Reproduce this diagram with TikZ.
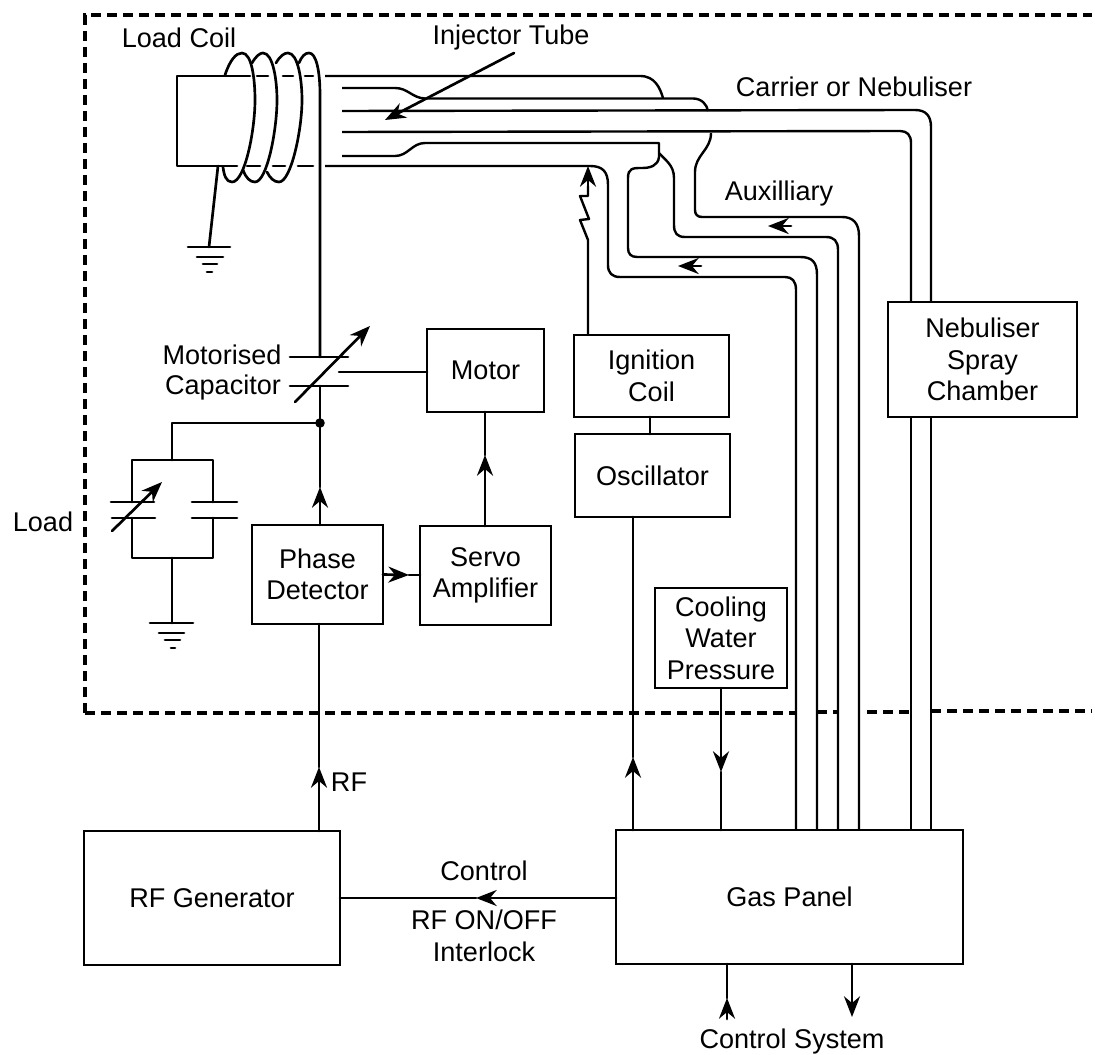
\documentclass[tikz,border=0pt]{standalone}
\usepackage{fontspec}
\setmainfont{Liberation Sans}
\usetikzlibrary{arrows.meta}
\tikzset{
  barb/.tip={Stealth[length=15.5pt,width=12pt,inset=5pt]},
  wire/.style={draw=black,line width=2pt,line cap=round,line join=round},
  thin wire/.style={draw=black,line width=1.8pt,line join=round},
  flow/.style={wire,-{barb}},
  bluebox/.style={draw=black,line width=2pt,inner sep=0pt,outer sep=0pt,align=center,font=\fontsize{20.3}{23.6}\selectfont},
  label/.style={inner sep=0pt,outer sep=0pt,align=center,font=\fontsize{20.3}{23.6}\selectfont},
  border/.style={draw=black,line width=2.4pt,dash pattern=on 7.6pt off 4.4pt}
}
\newcommand{\boxnode}[6]{\node[bluebox,minimum width={(#4-#2)*0.75pt},minimum height={(#5-#3)*0.75pt}] (#1) at ({(#2+#4)/2},{(#3+#5)/2}) {#6};}
\begin{document}
\begin{tikzpicture}[x=0.75pt,y=-0.75pt]
\useasboundingbox (0,0) rectangle (1095,1055);
% enclosure
\draw[border] (85,713) -- (85,15) -- (1092,15);
\draw[border] (85,713) -- (796,713);
\draw[border] (817,712) -- (838,712);
\draw[border] (867,712) -- (911,712);
\draw[border] (931,711) -- (1092,711);
% boxes
\boxnode{motor}{427}{329}{544}{412}{Motor}
\boxnode{phase}{252}{525}{383}{624}{Phase\\Detector}
\boxnode{servo}{420}{526}{551}{625}{Servo\\Amplifier}
\boxnode{ign}{574}{335}{729}{417}{Ignition\\Coil}
\boxnode{osc}{575}{434}{730}{517}{Oscillator}
\boxnode{cool}{655}{588}{787}{688}{Cooling\\Water\\Pressure}
\boxnode{neb}{888}{302}{1077}{417}{Nebuliser\\Spray\\Chamber}
\boxnode{rfgen}{84}{831}{340}{965}{RF Generator}
\boxnode{gas}{616}{830}{963}{964}{\raisebox{-1.5pt}{Gas Panel}}
% labels
\node[label] (lcoil) at (179,38) {Load Coil};
\node[label] (linj) at (511,38) {Injector Tube};
\node[label] (lcarr) at (854,87) {Carrier or Nebuliser};
\node[label] (laux) at (779,194) {Auxilliary};
\node[label] (lmot) at (222,355) {Motorised};
\node[label] (lcap) at (223,388) {Capacitor};
\node[label] (lload) at (43,522) {Load};
\node[label] (lrf) at (349,782) {RF};
\node[label] (lctl) at (484,871) {Control};
\node[label] (lonoff) at (484,920) {RF ON/OFF};
\node[label] (lint) at (484,952) {Interlock};
\node[label] (lsys) at (792,1041) {Control System};
% torch body
\draw[wire] (250,76) -- (177,76) -- (177,166) -- (237,166);
\draw[wire] (257,76) -- (268,76) (283,76) -- (293,76) (305,76) -- (313,76);
\draw[wire] (247,166) -- (260,166) (273,166) -- (285,166) (298,166) -- (313,166);
% coil
\draw[wire] (225,75) .. controls (230,60) and (236,53) .. (242,53) .. controls (252,53) and (255,80) .. (255,100) .. controls (255,130) and (245,182) .. (232,182) .. controls (226,182) and (224,175) .. (223,167);
\draw[wire] (252,63) .. controls (256,56) and (260,53) .. (263,53) .. controls (273,53) and (277,80) .. (277,100) .. controls (277,130) and (267,182) .. (255,182) .. controls (250,182) and (246,178) .. (243,170);
\draw[wire] (276,63) .. controls (280,56) and (284,53) .. (288,53) .. controls (298,53) and (302,80) .. (302,100) .. controls (302,130) and (291,182) .. (279,182) .. controls (274,182) and (270,178) .. (267,172);
\coordinate (captop) at (320,357);
\coordinate (capbot) at (320,386);
\coordinate (jct) at (320,423);
\draw[wire] (299,63) .. controls (302,56) and (305,53) .. (309,53) .. controls (316,53) and (320,70) .. (320,95) -- (captop);
% coil earth
\coordinate (gnda) at (209,247);
\draw[wire] (218,166) -- (gnda);
\draw[wire] (188,247) -- (230,247) (197,257) -- (223,257) (203,264) -- (217,264) (207,272) -- (212,272);
% gas lines
\draw[thin wire] (325,76) -- (640,76) .. controls (655,76) and (660,88) .. (663,98);
\draw[thin wire] (342,88) -- (395,88) .. controls (408,88) and (412,98) .. (425,98.5) -- (693,98.5) .. controls (702,98.5) and (707,105) .. (708,111);
\draw[thin wire] (342,111) -- (915,110) .. controls (926,110) and (931,116) .. (931,127) -- (neb.north -| 931,0);
\draw[thin wire] (342,132) -- (900,131) .. controls (907,131) and (911,135) .. (911,143) -- (neb.north -| 911,0);
\draw[thin wire] (342,156) -- (395,156) .. controls (408,156) and (412,143) .. (425,143) -- (659,143) -- (659,157) .. controls (658,166) and (650,168) .. (642,168) .. controls (633,168) and (628,168) .. (628,178) -- (628,248) .. controls (628,254) and (631,257) .. (637,257) -- (800,257) .. controls (812,257) and (817,262) .. (817,275) -- (gas.north -| 817,0);
\draw[thin wire] (659,153) .. controls (665,160) and (674,165) .. (674,178) -- (674,225) .. controls (674,233) and (677,237) .. (685,237) -- (826,237) .. controls (834,237) and (838,241) .. (838,250) -- (gas.north -| 838,0);
\draw[thin wire] (711,133) .. controls (711,150) and (695,155) .. (695,172) -- (695,210) .. controls (695,214) and (697,217) .. (702,217) -- (842,217) .. controls (853,217) and (859,223) .. (859,236) -- (gas.north -| 859,0);
\draw[thin wire] (325,166) -- (590,166) .. controls (603,166) and (608,172) .. (608,185) -- (608,265) .. controls (608,273) and (612,277) .. (620,277) -- (785,277) .. controls (792,277) and (796,281) .. (796,290) -- (gas.north -| 796,0);
\draw[thin wire] (neb.south -| 911,0) -- (gas.north -| 911,0);
\draw[thin wire] (neb.south -| 931,0) -- (gas.north -| 931,0);
% flow heads on the lines
\draw[flow] (701,266) -- (678,266);
\draw[flow] (791,226) -- (768,226);
% injector pointer
\coordinate (injtip) at (385,120);
\draw[flow] (514,53) -- (injtip);
% ignition feed
\coordinate (igntip) at (588,166);
\draw[thin wire] (ign.north -| igntip) -- (588,240) -- (580,220) -- (589,219) -- (580,196) -- (588,196) -- (588,186);
\draw[flow] (588,190) -- (igntip);
% capacitor
\draw[wire] (290,357) -- (348,357) (290,386) -- (348,386);
\draw[wire] (capbot) -- (jct);
\draw[flow] (295,402) -- (370,326);
\coordinate (capm) at (339,372);
\draw[wire] (capm) -- (motor.west |- capm);
\fill (jct) circle (3.6pt);
\coordinate (tipa) at (320,487);
\draw[flow] (phase.north -| jct) -- (tipa);
\draw[wire] (tipa) -- (jct);
% load capacitors
\draw[wire] (jct) -- (172,423) -- (172,460);
\draw[wire] (132,502) -- (132,460) -- (213,460) -- (213,502);
\draw[wire] (132,518) -- (132,558) -- (213,558) -- (213,518);
\draw[wire] (111,502) -- (154,502) (112,518) -- (155,518);
\draw[wire] (192,502) -- (237,502) (192,518) -- (237,518);
\draw[flow] (112,531) -- (162,482);
\coordinate (gndb) at (172,623);
\draw[wire] (172,558) -- (gndb);
\draw[wire] (150,623) -- (193,623) (159,633) -- (184,633) (165,640) -- (180,640) (171,648) -- (175,648);
% signal connections
\coordinate (tipb) at (319,767);
\draw[flow] (rfgen.north -| tipb) -- (tipb);
\draw[wire] (tipb) -- (phase.south -| tipb);
\coordinate (tipj) at (409,575);
\draw[flow] (phase.east) -- (tipj);
\draw[wire] (tipj) -- (servo.west |- tipj);
\coordinate (tipc) at (485,455);
\draw[flow] (servo.north -| tipc) -- (tipc);
\draw[wire] (tipc) -- (motor.south -| tipc);
\draw[wire] (ign.south -| 650,0) -- (osc.north -| 650,0);
\coordinate (tipd) at (633,757);
\draw[flow] (gas.north -| tipd) -- (tipd);
\draw[wire] (tipd) -- (osc.south -| tipd);
\coordinate (tipe) at (721,772);
\draw[flow] (cool.south -| tipe) -- (tipe);
\draw[wire] (tipe) -- (gas.north -| tipe);
\coordinate (tipf) at (476,898);
\draw[flow] (gas.west |- tipf) -- (tipf);
\draw[wire] (tipf) -- (rfgen.east |- tipf);
\coordinate (tipg) at (727,998);
\coordinate (baseg) at (727,1019);
\draw[wire] (gas.south -| tipg) -- (tipg);
\draw[flow] (baseg) -- (tipg);
\coordinate (tiph) at (852,1017);
\draw[flow] (gas.south -| tiph) -- (tiph);
\end{tikzpicture}
\end{document}
